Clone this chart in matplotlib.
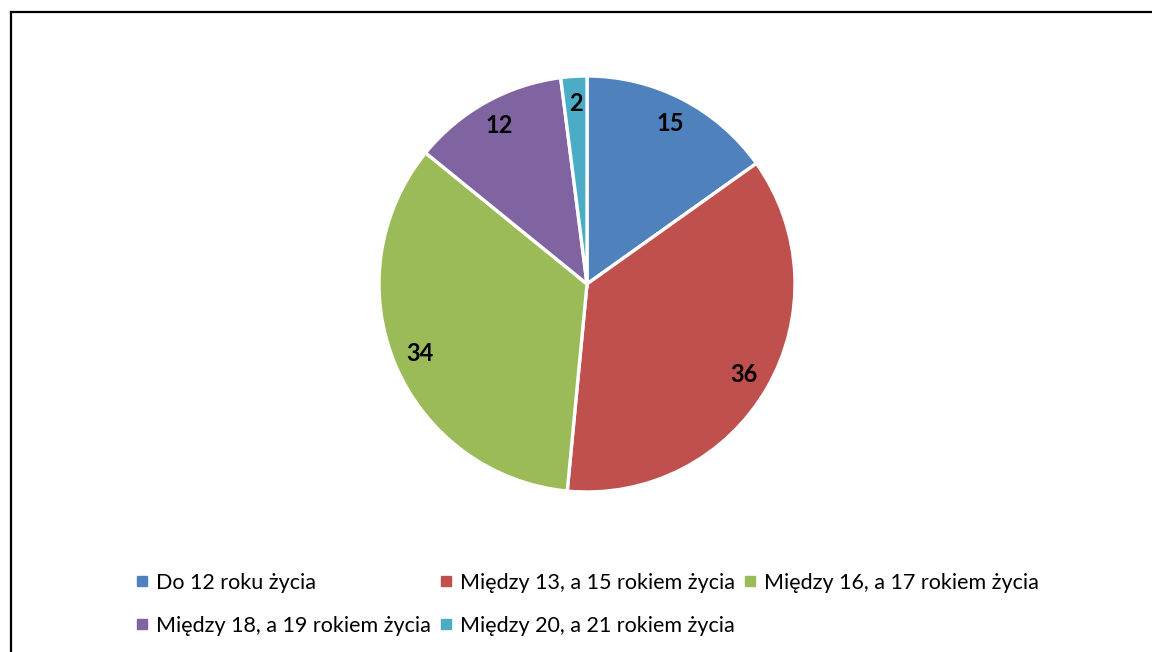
import numpy as np
import matplotlib.pyplot as plt
from matplotlib.lines import Line2D

plt.rcParams['font.family'] = ['Lato', 'DejaVu Sans']

kategorie = ['Do 12 roku życia', 'Między 13, a 15 rokiem życia', 'Między 16, a 17 rokiem życia',
             'Między 18, a 19 rokiem życia', 'Między 20, a 21 rokiem życia']
wartosci = [15, 36, 34, 12, 2]
farby = ['#4F81BD', '#C0504D', '#9BBB59', '#8064A2', '#4BACC6']

W, H = 1152, 652
fig = plt.figure(figsize=(W/100, H/100), dpi=100)

# kolac - stred (587, 284) px, polomer 208 px
cx, cy, r = 587, 284, 208
ax = fig.add_axes([(cx-r)/W, (H-cy-r)/H, 2*r/W, 2*r/H])
suma = sum(wartosci)
wedges, texts, autotexts = ax.pie(wartosci, colors=farby, startangle=90, counterclock=False,
                                  autopct=lambda p: '%d' % round(p*suma/100), pctdistance=0.87,
                                  wedgeprops=dict(edgecolor='white', linewidth=2.4),
                                  textprops=dict(fontsize=17, fontweight='bold', color='black'))
ax.set_xlim(-1, 1)
ax.set_ylim(-1, 1)
ax.set_aspect('equal')
ax.axis('off')

# legenda - poradie po riadkoch
poradie = [0, 3, 1, 4, 2]
handles = [Line2D([], [], marker='s', linestyle='none', markersize=6.5, color=farby[i]) for i in poradie]
labels = [kategorie[i] for i in poradie]
fig.legend(handles, labels, ncol=3, loc='upper left', bbox_to_anchor=(126/W, 1-562/H),
           frameon=False, fontsize=15.5, handlelength=0.45, handletextpad=0.45,
           columnspacing=0.45, labelspacing=1.06, borderpad=0)

# ramik
fig.add_artist(Line2D([10.5/W, 1], [1-11.5/H, 1-11.5/H], color='black', linewidth=1.6, transform=fig.transFigure))
fig.add_artist(Line2D([10.5/W, 10.5/W], [0, 1-11.5/H], color='black', linewidth=1.6, transform=fig.transFigure))

fig.savefig('out.png', dpi=100)
